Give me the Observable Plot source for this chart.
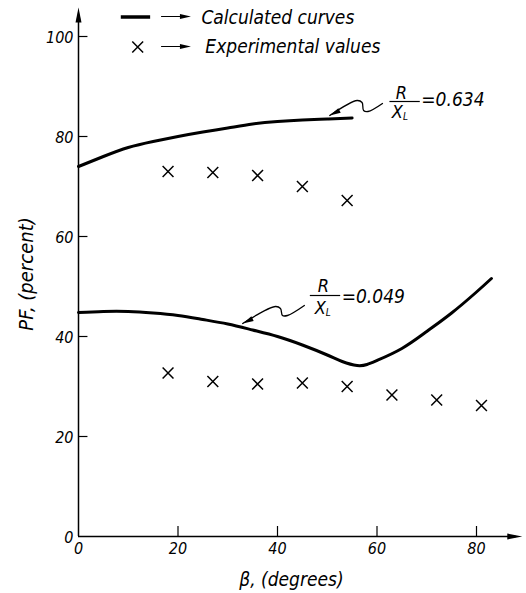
<!DOCTYPE html>
<html><head><meta charset="utf-8">
<script src="https://cdn.jsdelivr.net/npm/d3@7"></script>
<script src="https://cdn.jsdelivr.net/npm/@observablehq/plot@0.6"></script>
<style>body{margin:0;background:#fff} svg text{font-stretch:condensed}</style>
</head><body><div id="chart"></div>
<script>
// Calculated curves
const upperCalcBeta = [0, 5, 10, 15, 20, 25, 30, 35, 40, 45, 50, 55];
const upperCalcPF   = [74.0, 76.0, 77.8, 79.0, 80.0, 80.9, 81.7, 82.5, 83.0, 83.3, 83.5, 83.7];
const lowerCalcBeta = [0, 5, 10, 15, 20, 25, 30, 35, 40, 45, 50, 53, 56, 58, 60, 65, 70, 75, 80, 83];
const lowerCalcPF   = [44.8, 45.0, 45.0, 44.7, 44.2, 43.4, 42.5, 41.3, 40.0, 38.3, 36.3, 35.0, 34.2, 34.4, 35.2, 37.6, 41.0, 44.7, 48.9, 51.6];
// Experimental values
const upperExpBeta = [18, 27, 36, 45, 54];
const upperExpPF   = [73.0, 72.8, 72.2, 70.0, 67.2];
const lowerExpBeta = [18, 27, 36, 45, 54, 63, 72, 81];
const lowerExpPF   = [32.7, 31.0, 30.5, 30.7, 30.0, 28.3, 27.3, 26.2];
// Ticks
const xTicks = [0, 20, 40, 60, 80];
const yTicks = [0, 20, 40, 60, 80, 100];
// Labels
const curveLabels = ["0.634", "0.049"];
const legendLabels = ["Calculated curves", "Experimental values"];
const xLabel = "β, (degrees)";
const yLabel = "PF, (percent)";

const FONT = "'DejaVu Sans Condensed','DejaVu Sans',sans-serif";
const zip = (xs, ys) => xs.map((x, i) => ({x, y: ys[i]}));
const upperCalc = zip(upperCalcBeta, upperCalcPF);
const lowerCalc = zip(lowerCalcBeta, lowerCalcPF);
const upperExp = zip(upperExpBeta, upperExpPF);
const lowerExp = zip(lowerExpBeta, lowerExpPF);

// annotation anchor positions (data units)
const ann = [
  {label: curveLabels[0], rx: 64.9, ry: 88.6, bx1: 62.6, bx2: 68.7, by: 87.0, xx: 64.1, xy: 84.8, eqx: 68.9, eqy: 87.4,
   leader: [[50.5, 84.2], [56.0, 87.2], [57.0, 86.8], [57.3, 85.2], [58.2, 85.0], [61.1, 86.6]], rot: 243},
  {label: curveLabels[1], rx: 49.2, ry: 50.0, bx1: 46.6, bx2: 52.7, by: 48.2, xx: 48.6, xy: 45.6, eqx: 52.9, eqy: 48.0,
   leader: [[33.0, 42.6], [39.6, 46.0], [40.6, 45.6], [41.0, 44.2], [42.0, 44.2], [45.4, 46.2]], rot: 244}
];

const bigHead = {draw(ctx) { ctx.moveTo(0, 0); ctx.lineTo(-3, 15); ctx.lineTo(3, 15); ctx.closePath(); }};
const smallHead = {draw(ctx) { ctx.moveTo(0, 0); ctx.lineTo(-2.6, 11); ctx.lineTo(2.6, 11); ctx.closePath(); }};

const txt = {fontFamily: FONT, fontStyle: "italic", fill: "black"};

const leaderData = ann.flatMap((a, k) => a.leader.map(([x, y]) => ({x, y, k})));

const plot = Plot.plot({
  width: 526, height: 593,
  marginLeft: 78, marginRight: 50, marginTop: 36, marginBottom: 57,
  x: {domain: [0, 80], axis: null},
  y: {domain: [0, 100], axis: null},
  style: {background: "white", color: "black", overflow: "visible"},
  marks: [
    // axes
    Plot.ruleY([0], {x1: 0, x2: 88, stroke: "black", strokeWidth: 1.5}),
    Plot.ruleX([0], {y1: 0, y2: 104, stroke: "black", strokeWidth: 1.5}),
    Plot.dot([{x: 89.2, y: 0}], {x: "x", y: "y", symbol: bigHead, fill: "black", stroke: "none", rotate: 90}),
    Plot.dot([{x: 0, y: 105.8}], {x: "x", y: "y", symbol: bigHead, fill: "black", stroke: "none", rotate: 0}),
    Plot.ruleX(xTicks.filter(d => d > 0), {x: d => d, y1: 0, y2: 2, stroke: "black", strokeWidth: 1.2}),
    Plot.ruleY(yTicks.filter(d => d > 0), {y: d => d, x1: 0, x2: 1.9, stroke: "black", strokeWidth: 1.2}),
    Plot.text(xTicks, {x: d => d, y: 0, dy: 12, text: d => String(d), fontSize: 16, ...txt}),
    Plot.text(yTicks, {x: 0, y: d => d, dx: -5, dy: 1, text: d => String(d), textAnchor: "end", fontSize: 16, ...txt}),
    Plot.text([xLabel], {x: 42.8, y: -8.6, text: d => d, fontSize: 19, ...txt}),
    Plot.text([yLabel], {x: -10.5, y: 52.5, text: d => d, rotate: -90, fontSize: 20, ...txt}),
    // curves
    Plot.line(upperCalc, {x: "x", y: "y", curve: "natural", stroke: "black", strokeWidth: 3}),
    Plot.line(lowerCalc, {x: "x", y: "y", curve: "natural", stroke: "black", strokeWidth: 3}),
    Plot.dot(upperExp, {x: "x", y: "y", symbol: "times", r: 5, stroke: "black", strokeWidth: 1.5}),
    Plot.dot(lowerExp, {x: "x", y: "y", symbol: "times", r: 5, stroke: "black", strokeWidth: 1.5}),
    // annotations
    Plot.line(leaderData, {x: "x", y: "y", z: "k", curve: "catmull-rom", stroke: "black", strokeWidth: 1.3}),
    Plot.dot(ann, {x: a => a.leader[0][0], y: a => a.leader[0][1], symbol: smallHead, fill: "black", stroke: "none", rotate: a => a.rot}),
    Plot.text(ann, {x: "rx", y: "ry", text: () => "R", fontSize: 18, ...txt}),
    Plot.ruleY(ann, {y: "by", x1: "bx1", x2: "bx2", stroke: "black", strokeWidth: 1.2}),
    Plot.text(ann, {x: "xx", y: "xy", text: () => "X", fontSize: 18, ...txt}),
    Plot.text(ann, {x: "xx", y: "xy", dx: 8, dy: 4, text: () => "L", fontSize: 10, ...txt}),
    Plot.text(ann, {x: "eqx", y: "eqy", text: a => "=" + a.label, textAnchor: "start", fontSize: 19, ...txt}),
    // legend
    Plot.ruleY([103.9], {y: d => d, x1: 8.6, x2: 14.5, stroke: "black", strokeWidth: 3.5}),
    Plot.dot([{x: 11.9, y: 97.9}], {x: "x", y: "y", symbol: "times", r: 5, stroke: "black", strokeWidth: 1.5}),
    Plot.ruleY([104.0, 98.0], {y: d => d, x1: 16.7, x2: 21.5, stroke: "black", strokeWidth: 1}),
    Plot.dot([104.0, 98.0], {x: 22.6, y: d => d, symbol: smallHead, fill: "black", stroke: "none", rotate: 90}),
    Plot.text(legendLabels, {x: (d, i) => [24.7, 25.5][i], y: (d, i) => [103.8, 98][i], text: d => d, textAnchor: "start", fontSize: 19, ...txt})
  ]
});
document.getElementById("chart").appendChild(plot);
</script>
</body></html>
